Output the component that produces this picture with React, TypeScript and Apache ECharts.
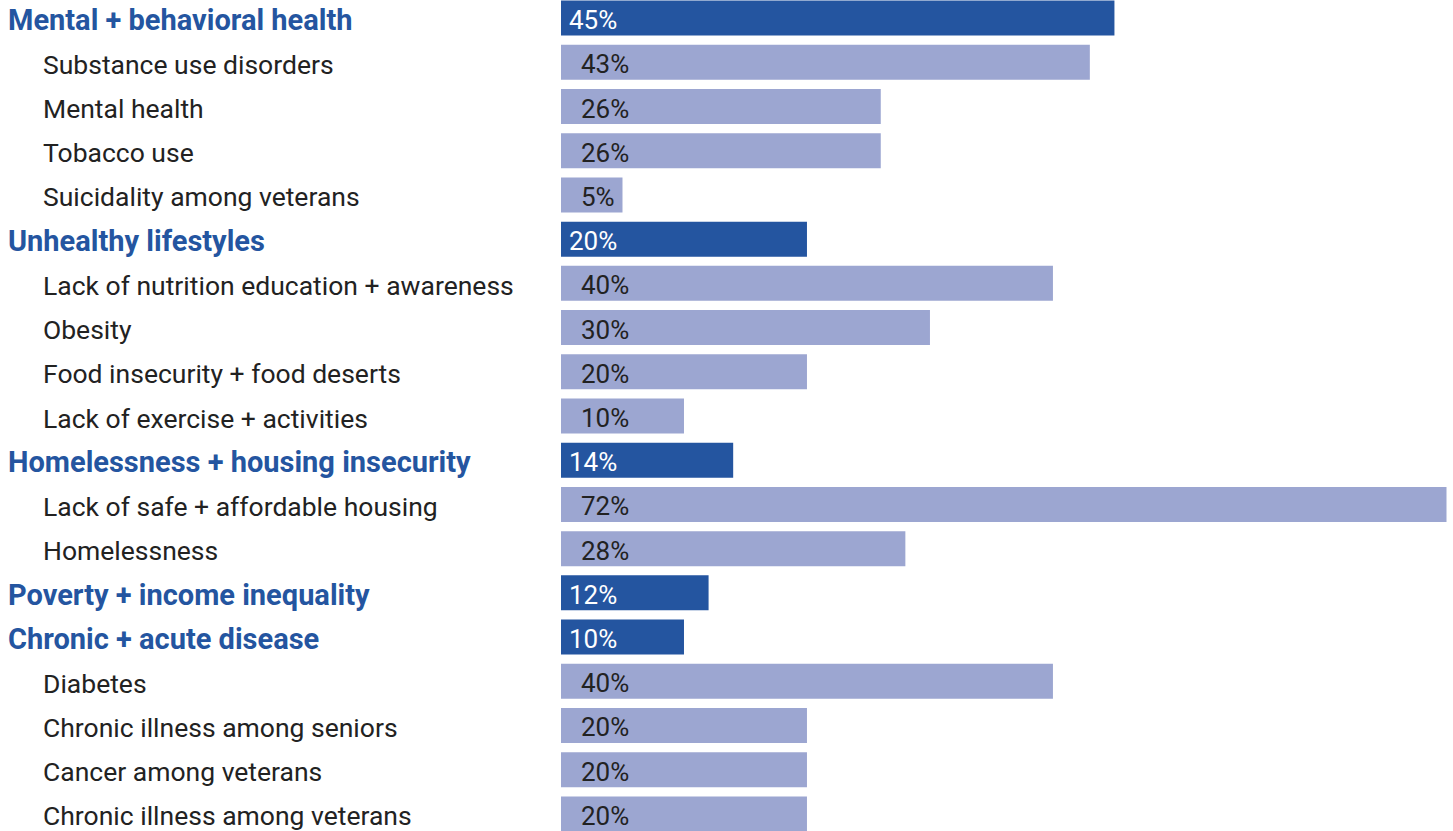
import React, { useEffect, useRef } from "react";
import * as echarts from "echarts";

const categories = [
  "Mental + behavioral health",
  "Substance use disorders",
  "Mental health",
  "Tobacco use",
  "Suicidality among veterans",
  "Unhealthy lifestyles",
  "Lack of nutrition education + awareness",
  "Obesity",
  "Food insecurity + food deserts",
  "Lack of exercise + activities",
  "Homelessness + housing insecurity",
  "Lack of safe + affordable housing",
  "Homelessness",
  "Poverty + income inequality",
  "Chronic + acute disease",
  "Diabetes",
  "Chronic illness among seniors",
  "Cancer among veterans",
  "Chronic illness among veterans",
];

const values = [45, 43, 26, 26, 5, 20, 40, 30, 20, 10, 14, 72, 28, 12, 10, 40, 20, 20, 20];

const isHeader = [
  true, false, false, false, false,
  true, false, false, false, false,
  true, false, false,
  true,
  true, false, false, false, false,
];

const DARK = "#2455a0";
const LIGHT = "#9ca6d1";

export default function App() {
  const ref = useRef<HTMLDivElement>(null);
  useEffect(() => {
    if (!ref.current) return;
    const chart = echarts.init(ref.current, undefined, { renderer: "svg" });
    chart.setOption({
      animation: false,
      grid: { left: 561, top: 0, width: 885.5, height: 840, containLabel: false },
      xAxis: { type: "value", min: 0, max: 72, show: false },
      yAxis: {
        type: "category",
        data: categories,
        inverse: true,
        axisLine: { show: false },
        axisTick: { show: false },
        splitLine: { show: false },
        axisLabel: {
          align: "left",
          margin: 553,
          fontFamily: "Roboto",
          formatter: (v: string, i: number) => (isHeader[i] ? `{h|${v}}` : `{s|${v}}`),
          rich: {
            h: { fontFamily: "Roboto", fontSize: 29, fontWeight: "bold", color: DARK, padding: [4, 0, 0, 0] },
            s: { fontFamily: "Roboto", fontSize: 26.5, color: "#222222", padding: [4, 0, 0, 35] },
          },
        },
      },
      series: [
        {
          type: "bar",
          barWidth: 35,
          data: values.map((v, i) => ({
            value: v,
            itemStyle: { color: isHeader[i] ? DARK : LIGHT },
            label: {
              show: true,
              position: "insideLeft",
              distance: isHeader[i] ? 8 : 20,
              offset: [0, 2],
              formatter: "{c}%",
              fontFamily: "Roboto",
              fontSize: 26,
              color: isHeader[i] ? "#ffffff" : "#222222",
            },
          })),
        },
      ],
    });
    return () => chart.dispose();
  }, []);
  return (
    <div
      ref={ref}
      style={{ position: "fixed", left: 0, top: -3.6, width: 1453, height: 840, background: "#fff" }}
    />
  );
}
